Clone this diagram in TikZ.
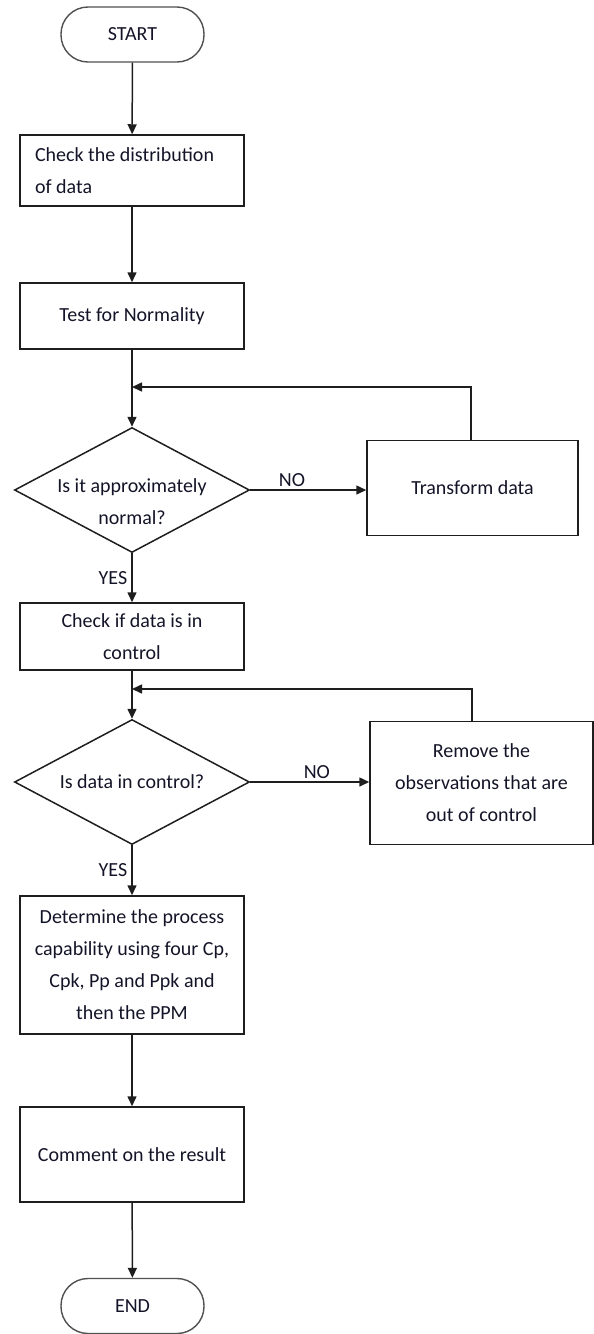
\documentclass[tikz,border=0pt]{standalone}
\usepackage{fontspec}
\setmainfont{Carlito}
\usetikzlibrary{shapes.geometric,arrows.meta}
\definecolor{txt}{RGB}{20,20,40}
\definecolor{ln}{RGB}{30,30,30}
\definecolor{term}{RGB}{80,80,80}
\begin{document}
\begin{tikzpicture}[x=1pt,y=-1pt,
  every node/.style={text=txt,font=\fontsize{20}{32}\selectfont},
  proc/.style={draw=ln,line width=1.5pt,rectangle,inner sep=0pt,align=center,minimum width=224pt},
  termnode/.style={draw=term,line width=1.4pt,rectangle,rounded corners=27pt,minimum width=143pt,minimum height=55pt,inner sep=0pt},
  decision/.style={draw=ln,line width=1.5pt,diamond,minimum width=235pt,minimum height=125pt,inner sep=0pt},
  arr/.style={draw=ln,line width=1.5pt,-{Triangle[length=10pt,width=9pt]}},
  lbl/.style={inner sep=0pt}]
\useasboundingbox (0,0) rectangle (594,1334);
\node[termnode] (start) at (132.5,34.5) {START};
\node[proc,text width=194pt,align=flush left,inner xsep=15pt,minimum height=71pt] (dist) at (132,170.5) {Check the distribution\\of data};
\node[proc,minimum height=66pt] (norm) at (132,316) {Test for Normality};
\node[decision] (d1) at (132,490) {};
\node[lbl,align=center] (d1t) at (132,502) {Is it approximately\\normal?};
\node[proc,minimum width=211pt,minimum height=95pt] (trans) at (472.5,488) {Transform data};
\node[proc,minimum height=67pt] (check) at (132,636.5) {Check if data is in\\control};
\node[decision] (d2) at (132,782) {};
\node[lbl] (d2t) at (132,782) {Is data in control?};
\node[proc,minimum width=223pt,minimum height=123pt] (remove) at (481.5,783) {Remove the\\observations that are\\out of control};
\node[proc,minimum height=138pt] (det) at (132,965) {Determine the process\\capability using four Cp,\\Cpk, Pp and Ppk and\\then the PPM};
\node[proc,minimum height=95pt] (comm) at (132,1154.5) {Comment on the result};
\node[termnode] (end) at (132.5,1306) {END};
\coordinate (fb1) at (132,387);
\coordinate (fb2) at (132,689);
\coordinate (fb2r) at (472,689);
\draw[arr] (start) -- (dist);
\draw[arr] (dist) -- (norm);
\draw[arr] (norm) -- (d1);
\draw[arr] (trans.north -| 471,0) |- (fb1);
\draw[arr] (d1.east) -- (d1.east -| trans.west) node[lbl,pos=0.36,above=3pt] (no1) {NO};
\draw[arr] (d1) -- (check) node[lbl,midway,left=4pt] (yes1) {YES};
\draw[arr] (check) -- (d2);
\draw[arr] (remove.north -| fb2r) -- (fb2r) -- (fb2);
\draw[arr] (d2.east) -- (d2.east -| remove.west) node[lbl,pos=0.56,above=3pt] (no2) {NO};
\draw[arr] (d2) -- (det) node[lbl,midway,left=4pt] (yes2) {YES};
\draw[arr] (det) -- (comm);
\draw[arr] (comm) -- (end);
\end{tikzpicture}
\end{document}
